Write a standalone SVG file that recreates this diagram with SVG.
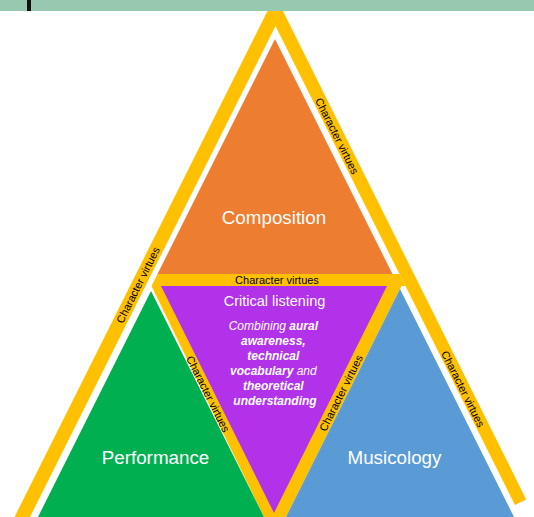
<svg xmlns="http://www.w3.org/2000/svg" width="534" height="517" viewBox="0 0 534 517">
<style>
.yel{fill:#FFC000}
.lbl{font-family:"Liberation Sans",Arial,sans-serif;fill:#fff;text-anchor:middle}
.cv{font-family:"Liberation Sans",Arial,sans-serif;font-size:11px;fill:#000;text-anchor:middle}
.para{font-family:"Liberation Sans",Arial,sans-serif;font-size:12px;fill:#fff;font-style:italic;text-anchor:middle}
.b{font-weight:bold}
</style>
<rect width="534" height="517" fill="#fff"/>
<g id="connectors">
  <polygon id="outer-band" class="yel" points="8,530 274.5,-3 276.5,-2 526.2,499.4 515,505 275.5,26 23.5,530"/>
  <polygon id="middle-band" class="yel" points="157.5,274 399.5,274 405.5,286 401.5,286 286,517 264,517 151.5,286"/>
  <text class="cv" transform="translate(337,136) rotate(63.43)" dy="0.35em">Character virtues</text>
  <text class="cv" transform="translate(463,389) rotate(63.43)" dy="0.35em">Character virtues</text>
  <text class="cv" transform="translate(138,285) rotate(-63.43)" dy="0.35em">Character virtues</text>
  <text class="cv" x="277" y="284">Character virtues</text>
  <text class="cv" transform="translate(208,394) rotate(63.43)" dy="0.35em">Character virtues</text>
  <text class="cv" transform="translate(341,393) rotate(-63.43)" dy="0.35em">Character virtues</text>
</g>
<g id="composition">
  <polygon points="275,39 157.5,274 392.5,274" fill="#ED7D31"/>
  <text class="lbl" x="274" y="224" font-size="18.8">Composition</text>
</g>
<g id="performance">
  <polygon points="151,291 38,517 264,517" fill="#00B050"/>
  <text class="lbl" x="155.5" y="464" font-size="18.8">Performance</text>
</g>
<g id="musicology">
  <polygon points="400,289 286,517 514,517" fill="#5B9BD5"/>
  <text class="lbl" x="394.5" y="464" font-size="18.8">Musicology</text>
</g>
<g id="critical-listening">
  <polygon points="161,286 387,286 274,513" fill="#B232EA"/>
  <text class="lbl" x="274.5" y="306" font-size="14.5">Critical listening</text>
  <text class="para">
    <tspan x="275" y="330">Combining <tspan class="b">aural</tspan></tspan>
    <tspan x="275" y="345" class="b">awareness,</tspan>
    <tspan x="275" y="360" class="b">technical</tspan>
    <tspan x="275" y="375"><tspan class="b">vocabulary</tspan> and</tspan>
    <tspan x="275" y="390" class="b">theoretical</tspan>
    <tspan x="275" y="405" class="b">understanding</tspan>
  </text>
</g>
<rect x="0" y="0" width="534" height="11" fill="#97C9B0"/>
<rect x="27" y="0" width="4" height="11" fill="#111"/>
</svg>
